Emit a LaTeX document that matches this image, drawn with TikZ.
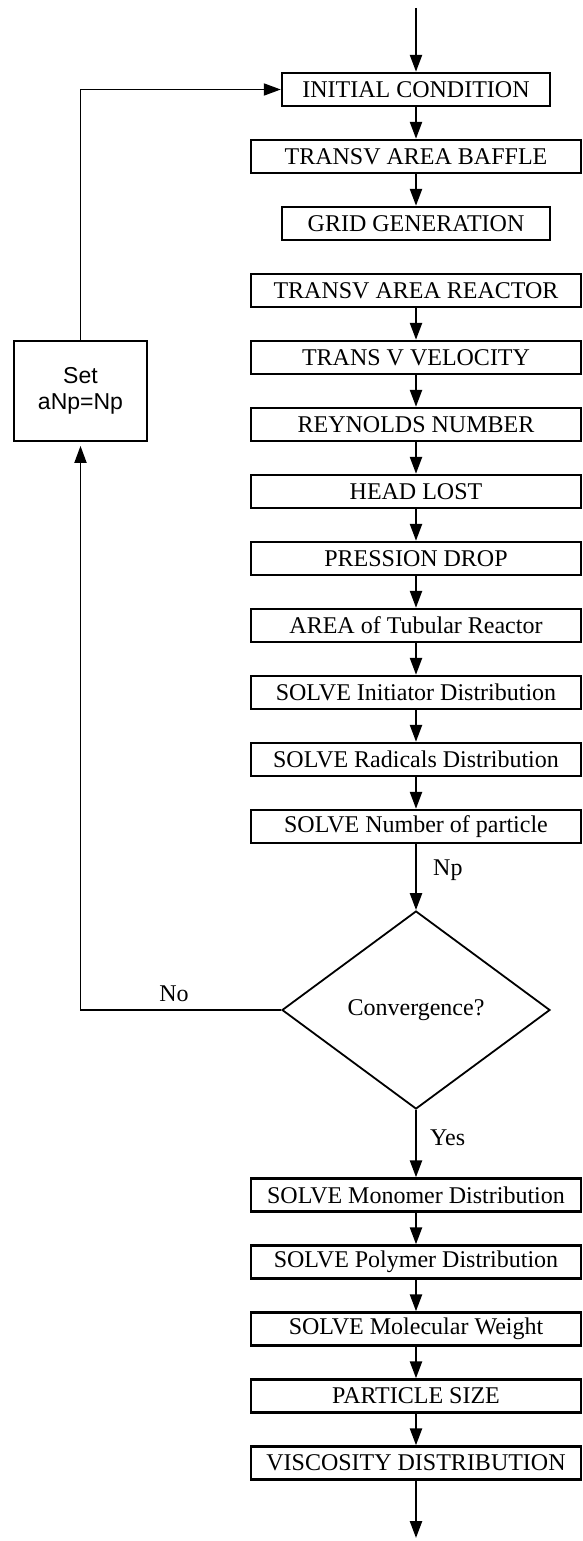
\documentclass[tikz,border=0pt]{standalone}
\usepackage{fontspec}
\setmainfont{Liberation Serif}
\newfontfamily\arialfont{Liberation Sans}
\usetikzlibrary{shapes.geometric,arrows.meta}
\begin{document}
\begin{tikzpicture}[x=1pt,y=-1pt,
  wide/.style={draw, line width=2.4pt, minimum width=330pt, minimum height=33pt, inner sep=0pt, font=\fontsize{24}{26}\selectfont},
  narrow/.style={wide, minimum width=268pt},
  conn/.style={line width=2.4pt, -{Triangle[length=17pt,width=12pt]}},
  loopline/.style={line width=1.8pt},
  lbl/.style={font=\fontsize{24}{26}\selectfont, inner sep=0pt}]
\useasboundingbox (0,0) rectangle (583,1541);
\fill[white] (0,0) rectangle (583,1541);
\coordinate (start) at (416,8);
\node[narrow] (n0) at (416,89.5) {INITIAL CONDITION};
\node[wide] (n1) at (416,156.5) {TRANSV AREA BAFFLE};
\node[narrow] (n2) at (416,223.5) {GRID GENERATION};
\node[wide] (n3) at (416,290.5) {TRANSV AREA REACTOR};
\node[wide] (n4) at (416,357.5) {TRANS V VELOCITY};
\node[wide] (n5) at (416,424.5) {REYNOLDS NUMBER};
\node[wide] (n6) at (416,491.5) {HEAD LOST};
\node[wide] (n7) at (416,558.5) {PRESSION DROP};
\node[wide] (n8) at (416,625.5) {AREA of Tubular Reactor};
\node[wide] (n9) at (416,692.5) {SOLVE Initiator Distribution};
\node[wide] (n10) at (416,759.5) {SOLVE Radicals Distribution};
\node[wide] (n11) at (416,826.5) {SOLVE Number of particle};
\node[draw, diamond, line width=1.8pt, minimum width=268pt, minimum height=198pt, inner sep=0pt, font=\fontsize{24}{26}\selectfont] (dia) at (416,1010) {Convergence?};
\node[wide] (m0) at (416,1195) {SOLVE Monomer Distribution};
\node[wide] (m1) at (416,1262) {SOLVE Polymer Distribution};
\node[wide] (m2) at (416,1329) {SOLVE Molecular Weight};
\node[wide] (m3) at (416,1396) {PARTICLE SIZE};
\node[wide] (m4) at (416,1463) {VISCOSITY DISTRIBUTION};
\coordinate (end) at (416,1538);
\node[draw, line width=1.8pt, minimum width=133pt, minimum height=100pt, inner sep=0pt, align=center, font=\arialfont\fontsize{23}{26}\selectfont] (set) at (80.5,391) {Set\\aNp=Np};
\node[lbl, anchor=west] (np) at (433,870) {Np};
\node[lbl] (no) at (174,994) {No};
\node[lbl, anchor=west] (yes) at (430,1138) {Yes};

\draw[conn] (start) -- (n0);
\draw[conn] (n0) -- (n1);
\draw[conn] (n1) -- (n2);
\draw[conn] (n3) -- (n4);
\draw[conn] (n4) -- (n5);
\draw[conn] (n5) -- (n6);
\draw[conn] (n6) -- (n7);
\draw[conn] (n7) -- (n8);
\draw[conn] (n8) -- (n9);
\draw[conn] (n9) -- (n10);
\draw[conn] (n10) -- (n11);
\draw[conn] (n11) -- (dia.north);
\draw[conn] (dia.south) -- (m0);
\draw[conn] (m0) -- (m1);
\draw[conn] (m1) -- (m2);
\draw[conn] (m2) -- (m3);
\draw[conn] (m3) -- (m4);
\draw[conn] (m4) -- (end);
\draw[conn, loopline, shorten >=4pt] (dia.west) -| (set.south);
\draw[conn, loopline] (set.north) |- (n0.west);
\end{tikzpicture}
\end{document}
